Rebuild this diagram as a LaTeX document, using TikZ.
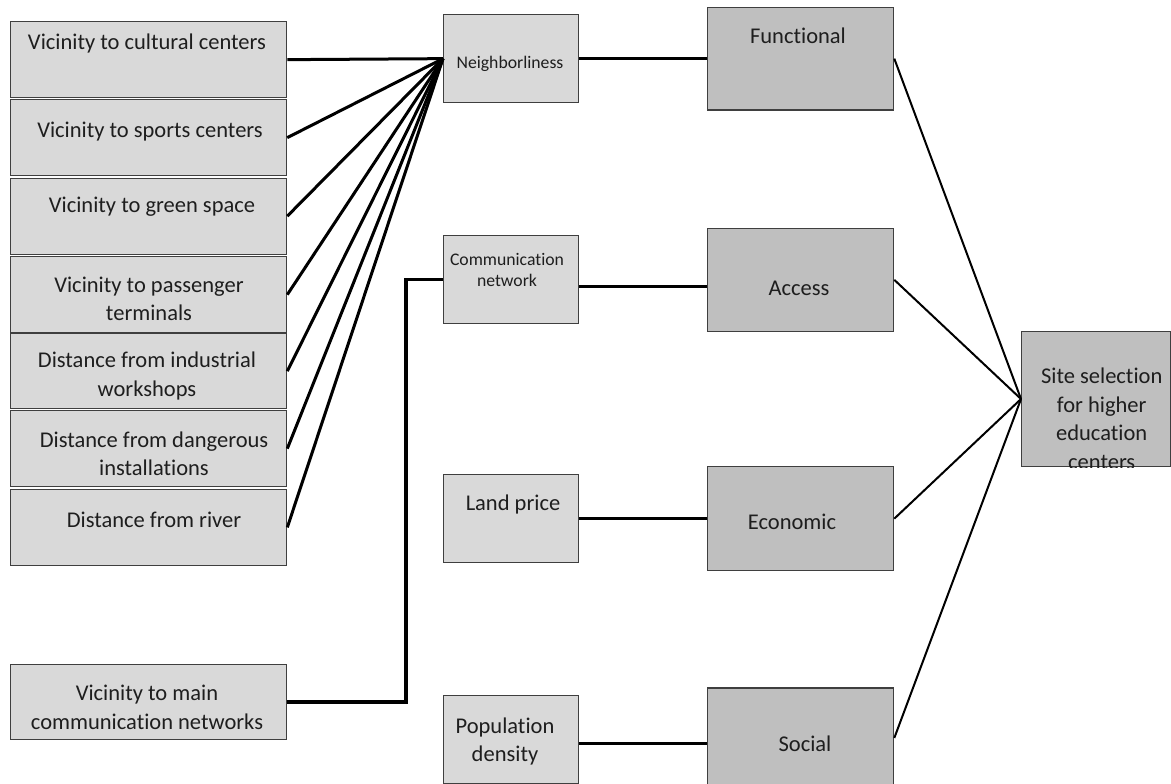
\documentclass[tikz,border=0pt]{standalone}
\usepackage{fontspec}
\setmainfont{Carlito}[Ligatures=NoCommon]
\definecolor{boxlight}{HTML}{D9D9D9}
\definecolor{boxdark}{HTML}{BFBFBF}
\definecolor{edgegray}{HTML}{3F3F3F}
\definecolor{inkgray}{HTML}{1E1E1E}
\tikzset{
  factor/.style={draw=edgegray, line width=1.3pt, fill=boxlight, anchor=north west, inner sep=0pt},
  criterion/.style={factor, fill=boxdark},
  bigtext/.style={inner sep=0pt, align=center, text=inkgray, font=\fontsize{22.5}{28.5}\selectfont},
  smalltext/.style={bigtext, font=\fontsize{17.7}{21.7}\selectfont},
  link/.style={line width=3pt, black},
  thicklink/.style={line width=3.6pt, black},
  thinlink/.style={line width=2pt, black}
}
\begin{document}
\begin{tikzpicture}[x=1pt, y=-1pt]
    \useasboundingbox (0,0) rectangle (1171,784);

    % sub-factors
    \node[factor, minimum width=276, minimum height=76] (cult) at (10,21) {};
    \node[bigtext] (cult-t) at (147,43.5) {Vicinity to cultural centers};
    \node[factor, minimum width=276, minimum height=76] (sport) at (10,99) {};
    \node[bigtext] (sport-t) at (150,132) {Vicinity to sports centers};
    \node[factor, minimum width=276, minimum height=76] (green) at (10,177.5) {};
    \node[bigtext] (green-t) at (152,207) {Vicinity to green space};
    \node[factor, minimum width=276, minimum height=76] (term) at (10,256) {};
    \node[bigtext] (term-t) at (149,299) {Vicinity to passenger\\terminals};
    \node[factor, minimum width=276, minimum height=75] (indus) at (10,333) {};
    \node[bigtext] (indus-t) at (147,376) {Distance from industrial\\workshops};
    \node[factor, minimum width=276, minimum height=76] (dang) at (10,410) {};
    \node[bigtext] (dang-t) at (154,454) {Distance from dangerous\\installations};
    \node[factor, minimum width=276, minimum height=76.5] (river) at (10,488.5) {};
    \node[bigtext] (river-t) at (154,520) {Distance from river};
    \node[factor, minimum width=276, minimum height=75] (mainnet) at (10,664) {};
    \node[bigtext] (mainnet-t) at (147,707.5) {Vicinity to main\\communication networks};

    % factors
    \node[factor, minimum width=135, minimum height=88] (neigh) at (443,14) {};
    \node[smalltext] (neigh-t) at (510,64) {Neighborliness};
    \node[factor, minimum width=135, minimum height=88] (comm) at (443,235) {};
    \node[smalltext] (comm-t) at (507,270) {Communication\\network};
    \node[factor, minimum width=135, minimum height=88] (land) at (443,474) {};
    \node[bigtext] (land-t) at (513,504) {Land price};
    \node[factor, minimum width=135, minimum height=88] (pop) at (443,695) {};
    \node[bigtext] (pop-t) at (505,741.5) {Population\\density};

    % criteria
    \node[criterion, minimum width=186, minimum height=102.6] (func) at (707,6.7) {};
    \node[bigtext] (func-t) at (798,36) {Functional};
    \node[criterion, minimum width=186, minimum height=103] (access) at (707,227.7) {};
    \node[bigtext] (access-t) at (799,288) {Access};
    \node[criterion, minimum width=186, minimum height=104] (econ) at (707,466) {};
    \node[bigtext] (econ-t) at (792,522) {Economic};
    \node[criterion, minimum width=186, minimum height=100] (social) at (707,687.3) {};
    \node[bigtext] (social-t) at (805,744) {Social};

    % goal
    \node[criterion, minimum width=149, minimum height=135.3] (site) at (1021,330.7) {};
    \begin{scope}
      \clip (site.south west) rectangle (site.north east);
      \node[bigtext] (site-t) at (1101.7,419) {Site selection\\for higher\\education\\centers};
    \end{scope}

    \draw[link] (cult.east) -- (neigh.west);
    \draw[link] (sport.east) -- (neigh.west);
    \draw[link] (green.east) -- (neigh.west);
    \draw[link] (term.east) -- (neigh.west);
    \draw[link] (indus.east) -- (neigh.west);
    \draw[link] (dang.east) -- (neigh.west);
    \draw[link] (river.east) -- (neigh.west);
    \draw[thicklink] (mainnet.east) -| ([xshift=-37pt]comm.west) -- (comm.west);

    \draw[thicklink] (neigh.east) -- (func.west);
    \draw[thicklink] ([yshift=-7pt]comm.east) -- ([yshift=-7pt]comm.east -| access.west);
    \draw[thicklink] (land.east) -- (econ.west);
    \draw[thicklink] ([yshift=-4pt]pop.east) -- ([yshift=-4pt]pop.east -| social.west);

    \draw[thinlink] (func.east) -- (site.west);
    \draw[thinlink] (access.east) -- (site.west);
    \draw[thinlink] (econ.east) -- (site.west);
    \draw[thinlink] (social.east) -- (site.west);
  \end{tikzpicture}
\end{document}
